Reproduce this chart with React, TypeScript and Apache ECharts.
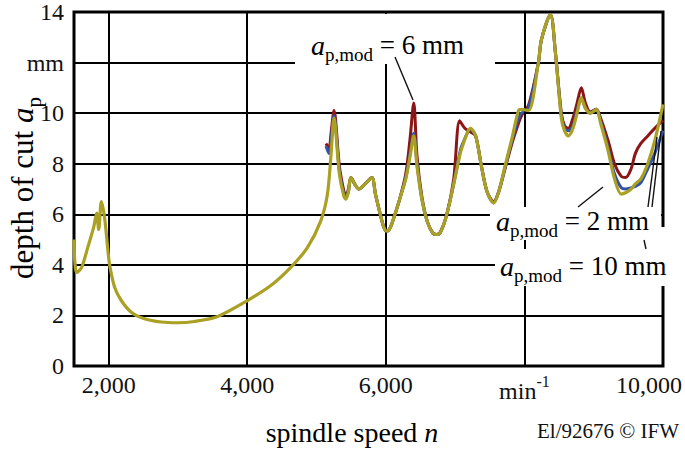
import React, { useEffect, useRef } from "react";
import * as echarts from "echarts";

// spindle speed n [1/min], depth of cut a_p [mm]
const apMod10: [number, number][] = [
  [1500, 5.0], [1510, 4.2], [1540, 3.7], [1610, 3.9], [1700, 4.7], [1785, 5.5], [1827, 6.05], [1856, 5.4],
  [1895, 6.5], [1942, 5.85], [1990, 4.55], [2014, 4.0], [2086, 3.11], [2182, 2.59], [2326, 2.13], [2518, 1.87],
  [2758, 1.74], [2997, 1.71], [3237, 1.76], [3573, 1.96], [4004, 2.59], [4340, 3.18], [4628, 3.9], [4868, 4.68],
  [5060, 5.73], [5156, 6.77], [5209, 8.35], [5252, 9.8], [5330, 7.6], [5396, 6.7],
  [5425, 6.6], [5460, 6.9], [5497, 7.45], [5560, 7.15], [5612, 7.0], [5700, 7.2], [5799, 7.45], [5850, 6.8],
  [5920, 6.0], [5970, 5.5], [6015, 5.33], [6060, 5.45], [6120, 5.9], [6200, 6.6], [6288, 7.4], [6350, 8.3],
  [6403, 9.1], [6450, 7.9], [6520, 6.6], [6600, 5.7], [6680, 5.25], [6734, 5.2], [6790, 5.3], [6880, 6.0],
  [6980, 7.2], [7065, 8.3], [7094, 8.6], [7224, 9.4], [7296, 9.1], [7380, 7.9], [7460, 6.9], [7555, 6.45],
  [7630, 6.9], [7720, 7.9], [7820, 9.0], [7915, 10.1], [7958, 10.15], [8058, 10.1], [8202, 12.0], [8245, 12.9],
  [8375, 13.9], [8447, 12.4], [8533, 9.8], [8580, 9.3], [8634, 9.1], [8700, 9.4], [8760, 10.0], [8821, 10.6],
  [8880, 10.2], [8950, 10.0], [9037, 10.15], [9100, 9.6], [9209, 8.5], [9300, 7.4], [9397, 6.8], [9460, 6.85],
  [9540, 7.0], [9600, 7.2], [9680, 7.4], [9780, 8.0], [9880, 8.9], [10000, 10.35],
];

const apMod6: [number, number][] = [
  [5137, 8.8], [5180, 8.6], [5209, 9.2], [5252, 10.1], [5330, 7.9], [5396, 6.9], [5425, 6.75], [5460, 7.0],
  [5497, 7.45], [5560, 7.15], [5612, 7.0], [5700, 7.2], [5799, 7.45], [5850, 6.8], [5920, 6.0], [5970, 5.5],
  [6015, 5.33], [6060, 5.45], [6120, 5.9], [6200, 6.6], [6288, 7.6], [6350, 9.0], [6403, 10.4], [6450, 8.3],
  [6520, 6.7], [6600, 5.7], [6680, 5.25], [6734, 5.2], [6790, 5.3], [6880, 6.0], [6980, 7.4], [7065, 9.7],
  [7140, 9.4], [7224, 9.25], [7296, 9.1], [7380, 7.9], [7460, 6.9], [7555, 6.5], [7630, 6.9], [7720, 7.8],
  [7820, 8.8], [7915, 9.6], [7958, 9.9], [8058, 10.3], [8202, 12.0], [8245, 12.9], [8375, 13.9], [8447, 12.4],
  [8533, 10.0], [8580, 9.5], [8634, 9.4], [8700, 9.8], [8760, 10.4], [8821, 11.0], [8880, 10.4], [8950, 10.05],
  [9037, 10.15], [9100, 9.8], [9209, 8.9], [9300, 8.0], [9397, 7.5], [9460, 7.45], [9540, 7.8], [9600, 8.4],
  [9680, 8.8], [9780, 9.1], [9880, 9.4], [10000, 9.7],
];

const apMod2: [number, number][] = [
  [5137, 8.7], [5180, 8.4], [5209, 8.9], [5252, 9.9], [5330, 7.7], [5396, 6.8], [5425, 6.7], [5460, 6.9],
  [5497, 7.45], [5560, 7.15], [5612, 7.0], [5700, 7.2], [5799, 7.45], [5850, 6.8], [5920, 6.0], [5970, 5.5],
  [6015, 5.33], [6060, 5.45], [6120, 5.9], [6200, 6.6], [6288, 7.45], [6350, 8.4], [6403, 9.2], [6450, 8.0],
  [6520, 6.6], [6600, 5.7], [6680, 5.25], [6734, 5.2], [6790, 5.3], [6880, 6.0], [6980, 7.2], [7065, 8.4],
  [7094, 8.7], [7224, 9.35], [7296, 9.1], [7380, 7.9], [7460, 6.9], [7555, 6.45], [7630, 6.9], [7720, 7.85],
  [7820, 8.9], [7915, 9.8], [7958, 10.0], [8058, 10.2], [8202, 12.0], [8245, 12.9], [8375, 13.9], [8447, 12.4],
  [8533, 9.9], [8580, 9.4], [8634, 9.3], [8700, 9.5], [8760, 10.1], [8821, 10.6], [8880, 10.2], [8950, 10.0],
  [9037, 10.15], [9100, 9.7], [9209, 8.6], [9300, 7.6], [9397, 7.05], [9460, 7.0], [9540, 7.05], [9600, 7.1],
  [9680, 7.25], [9780, 7.8], [9880, 8.4], [10000, 9.3],
];

const xGridValues = [2000, 4000, 6000, 8000];
const xTickLabels: Record<number, string> = {
  2000: "2,000",
  4000: "4,000",
  6000: "6,000",
  8000: "{n|min}{sup|-1}",
  10000: "{r|10,000}",
};
const yTickLabels: Record<number, string> = { 0: "0", 2: "2", 4: "4", 6: "6", 8: "8", 10: "10", 12: "mm", 14: "14" };

const FONT = '"Liberation Serif", "Times New Roman", serif';

const labelRich = {
  a: { fontFamily: FONT, fontSize: 28, fontStyle: "italic", lineHeight: 38, color: "#111" },
  s: { fontFamily: FONT, fontSize: 19, lineHeight: 38, verticalAlign: "bottom", color: "#111" },
  n: { fontFamily: FONT, fontSize: 27, lineHeight: 38, color: "#111" },
};

export default function App() {
  const ref = useRef<HTMLDivElement>(null);
  useEffect(() => {
    if (!ref.current) return;
    const chart = echarts.init(ref.current, null, { renderer: "svg" });
    const line = (x1: number, y1: number, x2: number, y2: number) => ({
      type: "line",
      z: 101,
      shape: { x1, y1, x2, y2 },
      style: { stroke: "#111", lineWidth: 1.4 },
    });
    const box = (x: number, y: number, width: number, height: number) => ({
      type: "rect",
      z: 100,
      shape: { x, y, width, height },
      style: { fill: "#fff" },
    });
    const label = (x: number, y: number, value: string) => ({
      type: "text",
      z: 102,
      x,
      y,
      style: {
        text: `{a|a}{s|p,mod}{n| = ${value}}`,
        rich: labelRich,
        align: "left",
        verticalAlign: "middle",
      },
    });
    chart.setOption({
      animation: false,
      backgroundColor: "#fff",
      grid: { left: 74, right: 21, top: 9, bottom: 84, show: true, borderColor: "#000", borderWidth: 3, backgroundColor: "transparent" },
      xAxis: {
        type: "value",
        min: 1500,
        max: 10000,
        interval: 500,
        axisLine: { show: false },
        axisTick: { show: false },
        splitLine: { show: false },
        axisLabel: {
          margin: 7,
          fontFamily: FONT,
          fontSize: 24,
          color: "#111",
          showMaxLabel: true,
          formatter: (v: number) => xTickLabels[v] ?? "",
          rich: {
            n: { fontFamily: FONT, fontSize: 24, color: "#111", lineHeight: 30, verticalAlign: "bottom" },
            sup: { fontFamily: FONT, fontSize: 16, color: "#111", lineHeight: 30, verticalAlign: "top" },
            r: { fontFamily: FONT, fontSize: 24, color: "#111", padding: [0, 28, 0, 0] },
          },
        },
      },
      yAxis: {
        type: "value",
        min: 0,
        max: 14,
        interval: 2,
        axisLine: { show: false },
        axisTick: { show: false },
        splitLine: { show: true, lineStyle: { color: "#000", width: 2 } },
        axisLabel: {
          margin: 10,
          fontFamily: FONT,
          fontSize: 24,
          color: "#111",
          formatter: (v: number) => yTickLabels[v] ?? "",
        },
      },
      series: [
        {
          type: "line",
          z: 1,
          data: [],
          silent: true,
          markLine: {
            silent: true,
            symbol: "none",
            label: { show: false },
            lineStyle: { color: "#000", width: 2, type: "solid" },
            data: xGridValues.map((v) => ({ xAxis: v })),
          },
        },
        {
          name: "a_p,mod = 6 mm",
          type: "line",
          z: 3,
          data: apMod6,
          showSymbol: false,
          smooth: 0.3,
          lineStyle: { color: "#8c1616", width: 3 },
        },
        {
          name: "a_p,mod = 2 mm",
          type: "line",
          z: 4,
          data: apMod2,
          showSymbol: false,
          smooth: 0.3,
          lineStyle: { color: "#3352a8", width: 3 },
        },
        {
          name: "a_p,mod = 10 mm",
          type: "line",
          z: 5,
          data: apMod10,
          showSymbol: false,
          smooth: 0.3,
          lineStyle: { color: "#a9a024", width: 3.2 },
        },
      ],
      graphic: [
        // annotation boxes
        box(295, 14, 200, 50),
        box(490, 207, 171, 33),
        box(495, 249, 190, 37),
        box(661, 227, 10, 24),
        // leader lines
        line(395, 57, 413, 100),
        line(578, 207, 603, 187),
        line(652, 207, 661, 131),
        line(648, 207, 657, 137),
        line(644, 240, 646, 249),
        // labels
        label(311, 45, "6 mm"),
        label(496, 221, "2 mm"),
        label(500, 266, "10 mm"),
        // axis titles
        {
          type: "text",
          z: 102,
          x: 352,
          y: 432,
          style: {
            text: "{n|spindle speed }{i|n}",
            rich: {
              n: { fontFamily: FONT, fontSize: 28, color: "#111" },
              i: { fontFamily: FONT, fontSize: 28, fontStyle: "italic", color: "#111" },
            },
            align: "center",
            verticalAlign: "middle",
          },
        },
        {
          type: "text",
          z: 102,
          x: 22,
          y: 188,
          rotation: Math.PI / 2,
          style: {
            text: "{n|depth of cut }{a|a}{s|p}",
            rich: {
              n: { fontFamily: FONT, fontSize: 31, lineHeight: 44, color: "#111" },
              a: { fontFamily: FONT, fontSize: 31, fontStyle: "italic", lineHeight: 44, color: "#111" },
              s: { fontFamily: FONT, fontSize: 21, lineHeight: 44, verticalAlign: "bottom", color: "#111" },
            },
            align: "center",
            verticalAlign: "middle",
          },
        },
        {
          type: "text",
          z: 102,
          x: 679,
          y: 431,
          style: {
            text: "El/92676 © IFW",
            fontFamily: FONT,
            fontSize: 21,
            fill: "#111",
            align: "right",
            verticalAlign: "middle",
          },
        },
      ],
    });
    return () => chart.dispose();
  }, []);
  return <div ref={ref} style={{ width: 685, height: 450, position: "absolute", left: 0, top: 0 }} />;
}
